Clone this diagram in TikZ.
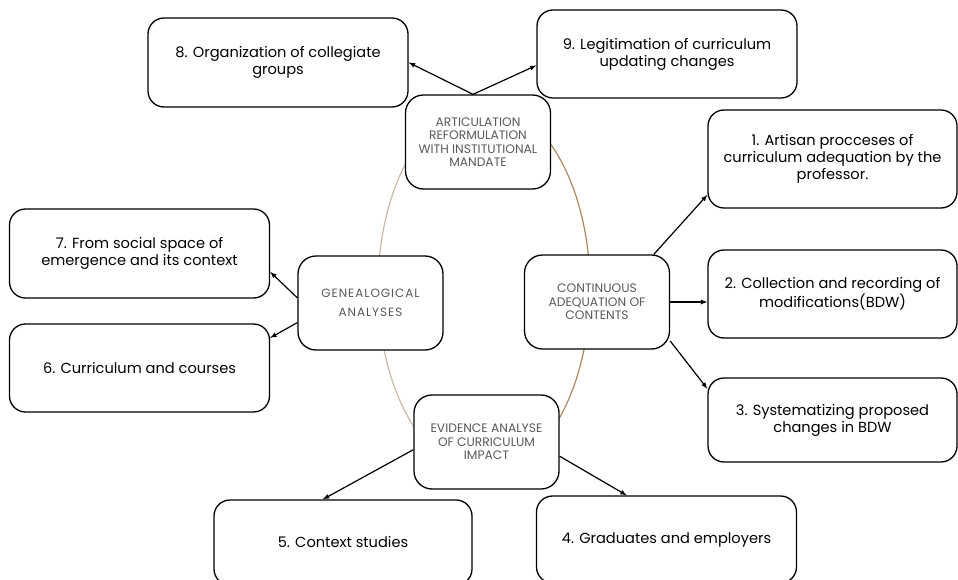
\documentclass[tikz,border=0pt]{standalone}
\usepackage{fontspec}
\setmainfont{Poppins}
\newfontfamily\WideFont[LetterSpace=8]{Poppins}
\usetikzlibrary{arrows,calc}
\definecolor{RingLight}{RGB}{201,186,164}
\definecolor{RingDark}{RGB}{170,138,90}
\definecolor{HubText}{RGB}{89,89,89}

\begin{document}
\begin{tikzpicture}[x=1pt,y=-1pt,>=latex,
  item/.style={draw,line width=1.3pt,rounded corners=16pt,fill=white,align=center,
    minimum width=260pt,minimum height=88pt,font=\fontsize{14.6}{17}\selectfont},
  hub/.style={draw,line width=1.3pt,rounded corners=18pt,fill=white,align=center,
    minimum width=145pt,minimum height=94pt,inner sep=2pt,text=HubText,font=\fontsize{12.3}{13.5}\selectfont},
  link/.style={->,line width=1.2pt}]
\useasboundingbox (0,0) rectangle (958,580);

% ring behind the hubs
\draw[RingLight,line width=1.2pt] (484,103) arc[start angle=270,end angle=90,x radius=106,y radius=185];
\draw[RingDark,line width=1.2pt] (484,103) arc[start angle=270,end angle=450,x radius=106,y radius=185];

\node[hub] (art) at (478,142) {ARTICULATION\\REFORMULATION\\WITH INSTITUTIONAL\\MANDATE};
\node[hub,font=\WideFont\fontsize{12}{19}\selectfont] (gen) at (370.5,303) {GENEALOGICAL\\ANALYSES};
\node[hub] (cont) at (597,302) {CONTINUOUS\\ADEQUATION OF\\CONTENTS};
\node[hub] (evid) at (486.5,442) {EVIDENCE ANALYSE\\OF CURRICULUM\\IMPACT};

\node[item,minimum width=249pt,minimum height=98pt] (b1) at (832.5,159) {1. Artisan procceses of\\curriculum adequation by the\\professor.};
\node[item,minimum width=249pt] (b2) at (832.5,294) {2. Collection and recording of\\modifications(BDW)};
\node[item,minimum width=249pt,minimum height=84pt] (b3) at (832.5,420) {3. Systematizing proposed\\changes in BDW};
\node[item,minimum height=87pt] (b4) at (666.5,539.5) {4. Graduates and employers};
\node[item,minimum width=258pt,minimum height=85pt] (b5) at (343,542.5) {5. Context studies};
\node[item] (b6) at (139.5,368) {6. Curriculum and courses};
\node[item,minimum height=89pt] (b7) at (139.5,253.5) {7. From social space of\\emergence and its context};
\node[item,minimum height=89pt] (b8) at (278,62.5) {8. Organization of collegiate\\groups};
\node[item] (b9) at (667,54) {9. Legitimation of curriculum\\updating changes};

\draw[link] (art.96) -- (b8.east);
\draw[link] (art.96) -- (b9.185);
\draw[link] (cont.40) -- (b1.196);
\draw[link] (cont.east) -- (cont.east -| b2.west);
\draw[link] (cont.-28) -- (b3.166);
\draw[link] (gen.176) -- (b7.-8);
\draw[link] (gen.195) -- (b6.13);
\draw[link] (evid.186) -- (b5.115);
\draw[link] (evid.-11) -- (b4.132);

\end{tikzpicture}
\end{document}
